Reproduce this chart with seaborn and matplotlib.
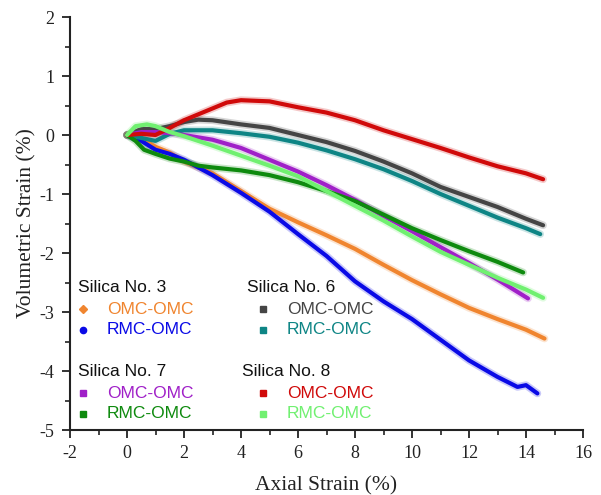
import matplotlib
matplotlib.use("Agg")
import matplotlib.pyplot as plt
from matplotlib.lines import Line2D
from matplotlib.ticker import MultipleLocator
import seaborn as sns
import pandas as pd

# Axial strain (%) / volumetric strain (%) per specimen
s3_omc_x = [0, 0.5, 1, 1.5, 2, 3, 4, 5, 6, 7, 8, 9, 10, 11, 12, 13, 14, 14.65]
s3_omc_y = [0, -0.05, -0.2, -0.3, -0.45, -0.65, -0.95, -1.25, -1.48, -1.7, -1.93, -2.2, -2.46, -2.7, -2.93, -3.12, -3.3, -3.45]

s3_rmc_x = [0, 0.5, 1, 1.5, 2, 3, 4, 5, 6, 7, 8, 9, 10, 11, 12, 13, 13.7, 14.0, 14.4]
s3_rmc_y = [0, -0.1, -0.25, -0.32, -0.42, -0.68, -0.98, -1.3, -1.68, -2.05, -2.48, -2.82, -3.12, -3.47, -3.82, -4.1, -4.27, -4.24, -4.38]

s6_omc_x = [0, 0.5, 1, 1.5, 2, 2.5, 3, 4, 5, 6, 7, 8, 9, 10, 11, 12, 13, 14, 14.6]
s6_omc_y = [0, 0.1, 0.1, 0.15, 0.22, 0.26, 0.25, 0.18, 0.12, 0.0, -0.12, -0.27, -0.45, -0.65, -0.88, -1.05, -1.22, -1.42, -1.53]

s6_rmc_x = [0, 0.5, 1, 1.5, 2, 3, 4, 5, 6, 7, 8, 9, 10, 11, 12, 13, 14, 14.5]
s6_rmc_y = [0, -0.05, -0.1, 0.02, 0.08, 0.08, 0.03, -0.03, -0.13, -0.26, -0.41, -0.58, -0.78, -1.0, -1.2, -1.4, -1.58, -1.68]

s7_omc_x = [0, 0.5, 1, 1.5, 2, 3, 4, 5, 6, 7, 8, 9, 10, 11, 12, 13, 14.07]
s7_omc_y = [0, 0.05, 0.05, 0.03, 0.0, -0.08, -0.22, -0.42, -0.62, -0.85, -1.1, -1.37, -1.63, -1.9, -2.17, -2.45, -2.77]

s7_rmc_x = [0, 0.3, 0.6, 1, 1.5, 2, 2.5, 3, 4, 5, 6, 7, 8, 9, 10, 11, 12, 13, 13.9]
s7_rmc_y = [0, -0.1, -0.25, -0.32, -0.4, -0.45, -0.52, -0.55, -0.6, -0.68, -0.8, -0.95, -1.12, -1.35, -1.58, -1.78, -1.97, -2.15, -2.33]

s8_omc_x = [0, 0.5, 1, 1.5, 2, 2.5, 3, 3.5, 4, 5, 6, 7, 8, 9, 10, 11, 12, 13, 14, 14.6]
s8_omc_y = [0, 0.02, 0.0, 0.12, 0.25, 0.35, 0.45, 0.55, 0.59, 0.57, 0.47, 0.38, 0.25, 0.08, -0.07, -0.22, -0.38, -0.53, -0.65, -0.75]

s8_rmc_x = [0, 0.3, 0.7, 1, 1.5, 2, 3, 4, 5, 6, 7, 8, 9, 10, 11, 12, 13, 14, 14.6]
s8_rmc_y = [0, 0.15, 0.18, 0.15, 0.05, -0.02, -0.18, -0.35, -0.52, -0.7, -0.95, -1.2, -1.45, -1.72, -1.98, -2.2, -2.42, -2.62, -2.76]

groups = ["Silica No. 3", "Silica No. 6", "Silica No. 7", "Silica No. 8"]
conditions = ["OMC-OMC", "RMC-OMC"]

series = [
    ("Silica No. 3", "OMC-OMC", s3_omc_x, s3_omc_y, "#F0852F", "D"),
    ("Silica No. 3", "RMC-OMC", s3_rmc_x, s3_rmc_y, "#0A0AE6", "o"),
    ("Silica No. 6", "OMC-OMC", s6_omc_x, s6_omc_y, "#454545", "s"),
    ("Silica No. 6", "RMC-OMC", s6_rmc_x, s6_rmc_y, "#0E8585", "s"),
    ("Silica No. 7", "OMC-OMC", s7_omc_x, s7_omc_y, "#A020C8", "s"),
    ("Silica No. 7", "RMC-OMC", s7_rmc_x, s7_rmc_y, "#0E8A0E", "s"),
    ("Silica No. 8", "OMC-OMC", s8_omc_x, s8_omc_y, "#D00A0A", "s"),
    ("Silica No. 8", "RMC-OMC", s8_rmc_x, s8_rmc_y, "#70F070", "s"),
]

rows = []
for g, c, xs, ys, _, _ in series:
    for x, y in zip(xs, ys):
        rows.append({"name": f"{g} {c}", "axial": x, "vol": y})
df = pd.DataFrame(rows)
palette = {f"{g} {c}": col for g, c, _, _, col, _ in series}

sns.set_theme(style="ticks")
plt.rcParams["font.family"] = ["Liberation Serif", "DejaVu Serif"]
plt.rcParams["axes.unicode_minus"] = False

fig = plt.figure(figsize=(6.01, 4.95), dpi=100)
ax = fig.add_axes([70 / 601, 1 - 430 / 495, 513 / 601, 413 / 495])

# soft halo under each band, then the band itself
sns.lineplot(data=df, x="axial", y="vol", hue="name", palette=palette,
             estimator=None, sort=False, linewidth=5.5, alpha=0.22,
             legend=False, ax=ax)
sns.lineplot(data=df, x="axial", y="vol", hue="name", palette=palette,
             estimator=None, sort=False, linewidth=3.0,
             legend=False, ax=ax)

ax.set_xlim(-2, 16)
ax.set_ylim(-5, 2)
ax.xaxis.set_major_locator(MultipleLocator(2))
ax.xaxis.set_minor_locator(MultipleLocator(1))
ax.yaxis.set_major_locator(MultipleLocator(1))
ax.yaxis.set_minor_locator(MultipleLocator(0.5))
for s in ("top", "right"):
    ax.spines[s].set_visible(False)
for s in ("left", "bottom"):
    ax.spines[s].set_linewidth(1.5)
    ax.spines[s].set_color("#222222")
ax.tick_params(which="major", direction="out", length=6, width=1.3,
               labelsize=13, colors="#222222", pad=5)
ax.tick_params(which="minor", direction="out", length=3.5, width=1.2,
               colors="#222222")
ax.set_xlabel("Axial Strain (%)", fontsize=15.5, color="#222222", labelpad=10)
ax.set_ylabel("Volumetric Strain (%)", fontsize=15.5, color="#222222", labelpad=2)

# grouped key: a title per silica, then a marker and coloured label per condition
key_font = ["Liberation Sans", "DejaVu Sans"]
key_pos = {
    "Silica No. 3": (78, 288),
    "Silica No. 6": (247, 288),
    "Silica No. 7": (78, 372),
    "Silica No. 8": (242, 372),
}
for g, c, _, _, col, mk in series:
    gx, gy = key_pos[g]
    if c == conditions[0]:
        fig.text(gx / 601, 1 - gy / 495, g, fontsize=12.5, family=key_font,
                 color="#111111", ha="left", va="center")
    k = conditions.index(c)
    ey = gy + 21 * (k + 1)
    mx = gx + 5 if gx < 200 else gx + 16 + (5 if g == "Silica No. 8" else 0)
    fig.add_artist(Line2D([mx / 601], [1 - ey / 495], marker=mk, ls="none",
                          color=col, markersize=4.5 if mk != "D" else 4,
                          transform=fig.transFigure))
    fig.text((mx + 24) / 601, 1 - ey / 495, c, fontsize=12.5, family=key_font,
             color=col, ha="left", va="center")

fig.savefig("out.png", dpi=100)
